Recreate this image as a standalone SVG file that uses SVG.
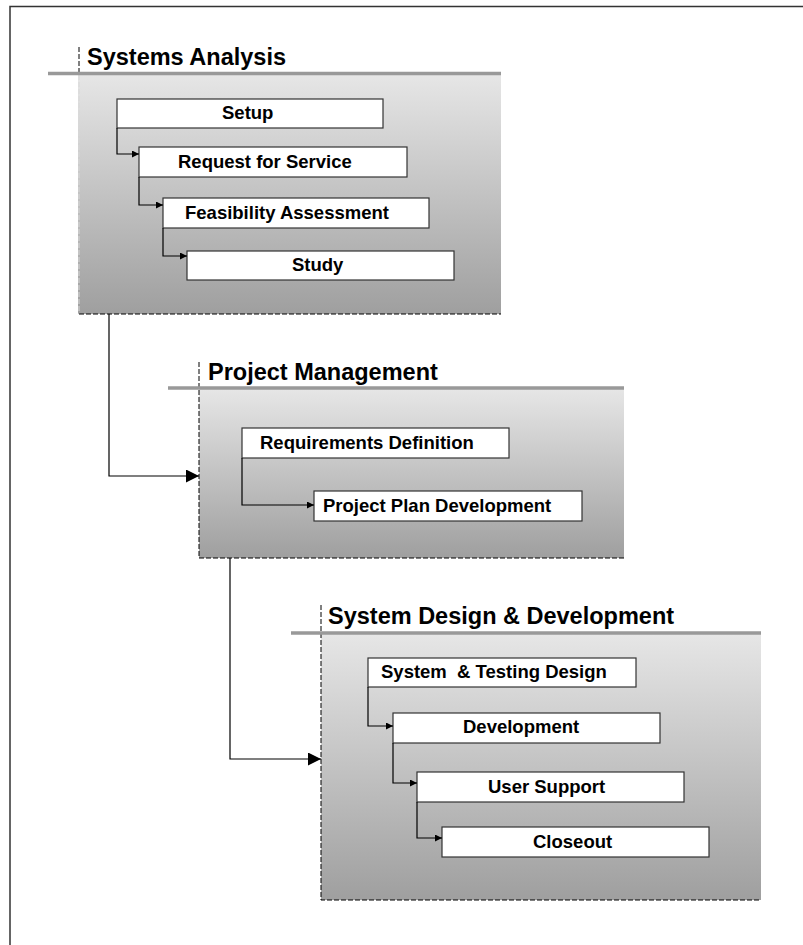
<svg xmlns="http://www.w3.org/2000/svg" width="803" height="945" viewBox="0 0 803 945">
<defs>
<linearGradient id="pg" x1="0" y1="0" x2="0" y2="1">
<stop offset="0" stop-color="#e6e6e6"/>
<stop offset="1" stop-color="#9f9f9f"/>
</linearGradient>
<marker id="sa" viewBox="0 0 10 10" refX="10" refY="5" markerWidth="8" markerHeight="7" markerUnits="userSpaceOnUse" orient="auto">
<path d="M0,0 L10,5 L0,10 Z" fill="#000"/>
</marker>
<marker id="la" viewBox="0 0 10 10" refX="10" refY="5" markerWidth="15" markerHeight="13" markerUnits="userSpaceOnUse" orient="auto">
<path d="M0,0 L10,5 L0,10 Z" fill="#000"/>
</marker>
</defs>
<style>
.frame{fill:none;stroke:#333;stroke-width:1.5}
.panel{fill:url(#pg);stroke:none}
.pedge{fill:none;stroke:#000;stroke-width:1;stroke-dasharray:5 2}
.faint{fill:none;stroke:#d8d8d8;stroke-width:1;stroke-dasharray:5 2}
.bar{stroke:#999;stroke-width:3.5}
.box{fill:#fff;stroke:#333;stroke-width:1.2}
.title{font-family:"Liberation Sans",Arial,sans-serif;font-weight:bold;font-size:23.5px;fill:#000}
.lbl{font-family:"Liberation Sans",Arial,sans-serif;font-weight:bold;font-size:18.5px;fill:#000;white-space:pre}
.c{fill:none;stroke:#000;stroke-width:1.2}
</style>
<rect class="frame" x="10" y="6.5" width="820" height="960"/>

<g id="systems-analysis">
<rect class="panel" x="78" y="75" width="423" height="239"/>
<path class="faint" d="M79,75 V314"/>
<path class="pedge" d="M79,47 V74 M79,314 H501"/>
<line class="bar" x1="48" y1="73.5" x2="501" y2="73.5"/>
<text class="title" x="87" y="65">Systems Analysis</text>
</g>
<g id="setup"><rect class="box" x="117" y="99" width="266" height="29"/><text class="lbl" x="222" y="119">Setup</text></g>
<g id="request-for-service"><rect class="box" x="139" y="147" width="268" height="30"/><text class="lbl" x="178" y="168">Request for Service</text></g>
<g id="feasibility-assessment"><rect class="box" x="163" y="198" width="266" height="30"/><text class="lbl" x="185" y="219">Feasibility Assessment</text></g>
<g id="study"><rect class="box" x="187" y="251" width="267" height="29"/><text class="lbl" x="292" y="271">Study</text></g>

<g id="project-management">
<rect class="panel" x="199" y="389" width="425" height="169"/>
<path class="pedge" d="M199,362 V558 H624"/>
<line class="bar" x1="168" y1="388" x2="624" y2="388"/>
<text class="title" x="208" y="380">Project Management</text>
</g>
<g id="requirements-definition"><rect class="box" x="242" y="428" width="267" height="30"/><text class="lbl" x="260" y="449">Requirements Definition</text></g>
<g id="project-plan-development"><rect class="box" x="314" y="491" width="268" height="30"/><text class="lbl" x="323" y="512">Project Plan Development</text></g>

<g id="system-design-development">
<rect class="panel" x="321" y="634" width="440" height="266"/>
<path class="pedge" d="M321,605 V900 H761"/>
<line class="bar" x1="291" y1="633" x2="761" y2="633"/>
<text class="title" x="328" y="624">System Design &amp; Development</text>
</g>
<g id="system-testing-design"><rect class="box" x="368" y="658" width="268" height="29"/><text class="lbl" x="381" y="678">System  &amp; Testing Design</text></g>
<g id="development"><rect class="box" x="393" y="713" width="267" height="30"/><text class="lbl" x="463" y="733">Development</text></g>
<g id="user-support"><rect class="box" x="417" y="772" width="267" height="30"/><text class="lbl" x="488" y="793">User Support</text></g>
<g id="closeout"><rect class="box" x="442" y="827" width="267" height="30"/><text class="lbl" x="533" y="848">Closeout</text></g>

<g id="connectors">
<path class="c" d="M117,128 V154 H139" marker-end="url(#sa)"/>
<path class="c" d="M139,177 V205 H163" marker-end="url(#sa)"/>
<path class="c" d="M163,228 V256 H187" marker-end="url(#sa)"/>
<path class="c" d="M242,458 V505 H314" marker-end="url(#sa)"/>
<path class="c" d="M368,687 V726 H393" marker-end="url(#sa)"/>
<path class="c" d="M393,743 V783 H417" marker-end="url(#sa)"/>
<path class="c" d="M417,802 V838 H442" marker-end="url(#sa)"/>
<path class="c" d="M109,314 V476 H199" marker-end="url(#la)"/>
<path class="c" d="M230,558 V759 H321" marker-end="url(#la)"/>
</g>
</svg>
